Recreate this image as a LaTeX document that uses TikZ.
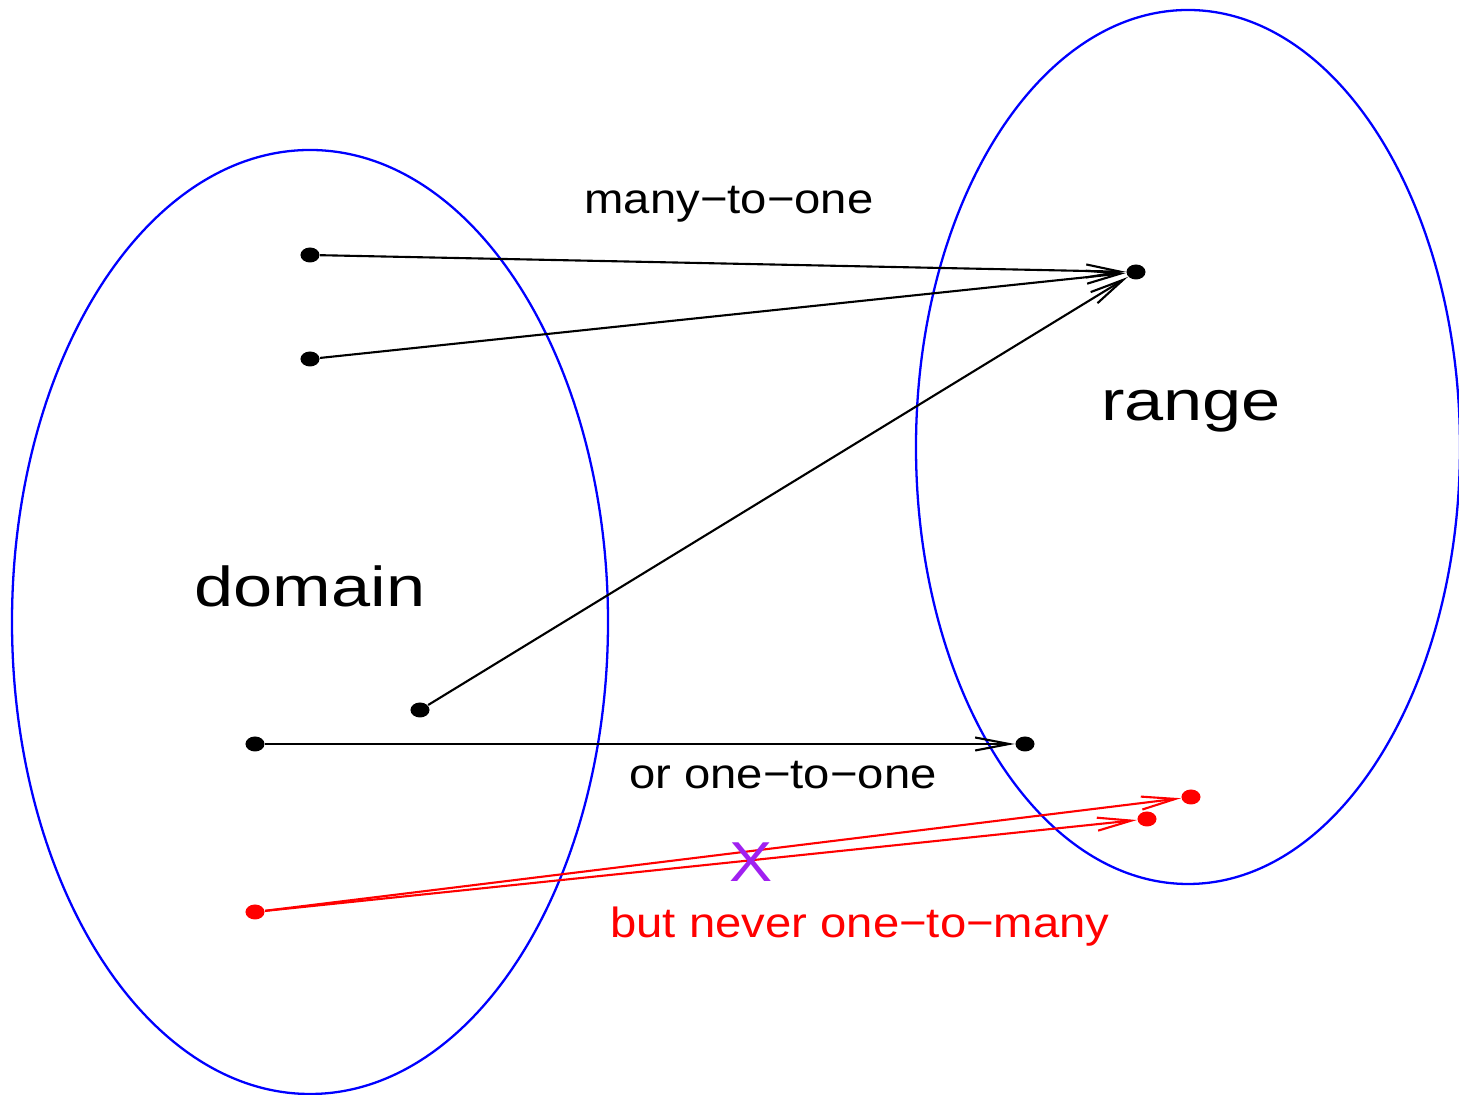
\documentclass[tikz,border=0pt]{standalone}
\usepackage{fontspec}
\setmainfont{Liberation Sans}
\usetikzlibrary{arrows.meta,shapes.geometric}
\definecolor{xpurple}{RGB}{160,32,240}
\begin{document}
\begin{tikzpicture}[x=0.01cm,y=-0.01cm,
  setline/.style={blue,line width=0.65pt},
  dotb/.style={ellipse,fill=black,inner sep=0pt,minimum width=0.19cm,minimum height=0.15cm},
  dotr/.style={ellipse,fill=red,inner sep=0pt,minimum width=0.19cm,minimum height=0.15cm},
  maparrow/.style={line width=0.6pt,-{Straight Barb[length=0.34cm,width=0.13cm]}},
  smalllbl/.style={anchor=base,inner sep=0pt,xscale=1.12,font=\fontsize{12pt}{14pt}\selectfont},
  biglbl/.style={anchor=base,inner sep=0pt,xscale=1.25,font=\fontsize{16pt}{19pt}\selectfont}]
\useasboundingbox (0,0) rectangle (1459,1095);
\draw[setline] (310,622) ellipse [x radius=298, y radius=472];
\draw[setline] (1188,447) ellipse [x radius=272, y radius=437];
\node[dotb] (d1) at (310,255) {};
\node[dotb] (d2) at (310,359) {};
\node[dotb] (d3) at (420,710) {};
\node[dotb] (d4) at (255,744) {};
\node[dotr] (d5) at (255,912) {};
\node[dotb] (r1) at (1136,272) {};
\node[dotb] (r2) at (1025,744) {};
\node[dotr] (r3) at (1191,797) {};
\node[dotr] (r4) at (1147,819) {};
\draw[maparrow] (d1) -- (r1);
\draw[maparrow] (d2) -- (r1);
\draw[maparrow] (d3) -- (r1);
\draw[maparrow] (d4) -- (r2);
\draw[maparrow,red] (d5) -- (r3);
\draw[maparrow,red] (d5) -- (r4);
\node[smalllbl] (l1) at (729,214) {many−to−one};
\node[smalllbl] (l2) at (783,789) {or one−to−one};
\node[smalllbl,text=red] (l3) at (860,938) {but never one−to−many};
\node[biglbl] (l4) at (1191,421) {range};
\node[biglbl] (l5) at (310,607) {domain};
\node[anchor=base,inner sep=0pt,xscale=1.15,text=xpurple,font=\fontsize{16pt}{18pt}\selectfont] (x) at (751,882) {X};
\end{tikzpicture}
\end{document}
